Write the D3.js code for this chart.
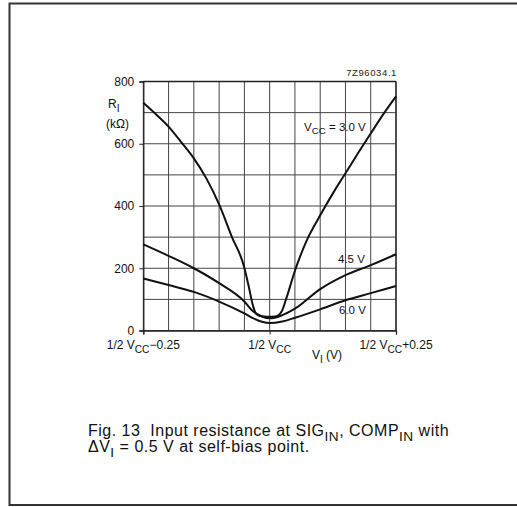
<!DOCTYPE html>
<html><head><meta charset="utf-8">
<script src="https://cdn.jsdelivr.net/npm/d3@7"></script>
<style>
body{margin:0;background:#fff;}
svg{display:block;font-family:"Liberation Sans",Arial,sans-serif;}
</style></head>
<body>
<svg id="c" width="517" height="507"></svg>
<script>
// ---- data ----
const xTickValues = [-0.25, 0, 0.25];
const xTickLabels = ["1/2 V|CC|\u22120.25", "1/2 V|CC|", "1/2 V|CC|+0.25"];
const yTickValues = [0, 200, 400, 600, 800];
const seriesNames = ["3.0 V", "4.5 V", "6.0 V"];
const v30X = [-0.25,-0.225,-0.2,-0.175,-0.15,-0.125,-0.1,-0.075,-0.051,-0.042,-0.033,-0.028,-0.022,-0.012,0,0.01,0.018,0.024,0.033,0.05,0.075,0.1,0.129,0.15,0.175,0.2,0.225,0.25];
const v30Y = [732,695,655,605,553,488,405,302,207,146,80,57,48,45,44,45,50,62,103,192,295,370,451,505,570,633,695,752];
const v45X = [-0.25,-0.2,-0.15,-0.1,-0.05,-0.033,-0.015,0,0.02,0.05,0.1,0.15,0.2,0.25];
const v45Y = [277,240,200,152,93,62,45,39,46,70,133,178,210,245];
const v60X = [-0.25,-0.2,-0.15,-0.1,-0.05,-0.033,-0.015,0,0.025,0.05,0.1,0.15,0.2,0.25];
const v60Y = [167,146,124,93,55,40,28,24,29,41,68,97,120,143];

const svg = d3.select("#c");
const x = d3.scaleLinear().domain([-0.25, 0.25]).range([143.3, 396]);
const y = d3.scaleLinear().domain([0, 800]).range([330.5, 81.5]);

// outer frame
svg.append("path").attr("d","M517,3.5 L9.5,3.5 L9.5,505 L517,505")
  .attr("fill","none").attr("stroke","#333").attr("stroke-width",2);

// grid
const g = svg.append("g");
g.selectAll(".vg").data(d3.range(-0.25, 0.2501, 0.05)).join("line")
  .attr("x1", d => x(d)).attr("x2", d => x(d)).attr("y1", y(0)).attr("y2", y(800))
  .attr("stroke", "#444").attr("stroke-width", 1);
g.selectAll(".hg").data(d3.range(0, 801, 100)).join("line")
  .attr("y1", d => y(d)).attr("y2", d => y(d)).attr("x1", x(-0.25)).attr("x2", x(0.25))
  .attr("stroke", "#444").attr("stroke-width", 1);

// axes
const yAxis = d3.axisLeft(y).tickValues(yTickValues).tickSize(4).tickPadding(5);
const ya = svg.append("g").attr("transform", `translate(${x(-0.25)},0)`).call(yAxis);
ya.select(".domain").attr("stroke","#222").attr("stroke-width",1.3);
ya.selectAll("line").attr("stroke","#222");
ya.selectAll("text").attr("font-size",12).attr("fill","#111").attr("font-family","Liberation Sans, Arial, sans-serif");

const xAxis = d3.axisBottom(x).tickValues(xTickValues).tickSize(4).tickFormat("");
const xa = svg.append("g").attr("transform", `translate(0,${y(0)})`).call(xAxis);
xa.select(".domain").attr("stroke","#222").attr("stroke-width",1.3);
xa.selectAll("line").attr("stroke","#222");

// right/top border
svg.append("line").attr("x1",x(0.25)).attr("x2",x(0.25)).attr("y1",y(0)).attr("y2",y(800)).attr("stroke","#222").attr("stroke-width",1.3);
svg.append("line").attr("x1",x(-0.25)).attr("x2",x(0.25)).attr("y1",y(800)).attr("y2",y(800)).attr("stroke","#222").attr("stroke-width",1.3);

// helper: text with subscripts written as "a|sub|b"
function richText(sel, str, size) {
  const parts = str.split("|");
  parts.forEach((p, i) => {
    if (p === "") return;
    const t = sel.append("tspan").text(p);
    if (i % 2 === 1) t.attr("font-size", size * 0.85).attr("dy", size * 0.3);
    else if (i > 0) t.attr("dy", -size * 0.3);
  });
}

// x tick labels
xTickValues.forEach((v, i) => {
  const t = svg.append("text").attr("x", x(v)).attr("y", 349).attr("text-anchor","middle")
    .attr("font-size", 12).attr("fill","#111");
  richText(t, xTickLabels[i], 12);
});
// x axis title
const xt = svg.append("text").attr("x", 327).attr("y", 359).attr("text-anchor","middle").attr("font-size",12).attr("fill","#111");
richText(xt, "V|I| (V)", 12);

// y axis title
const yt = svg.append("text").attr("x", 108).attr("y", 108).attr("font-size",12).attr("fill","#111");
richText(yt, "R|I|", 12);
svg.append("text").attr("x", 106).attr("y", 128).attr("font-size",12).attr("fill","#111").text("(k\u03A9)");

// code
svg.append("text").attr("x", 397).attr("y", 76).attr("text-anchor","end").attr("font-size",9.5).attr("fill","#222").attr("letter-spacing",0.6).text("7Z96034.1");

// curves
const line = d3.line().x(d => x(d[0])).y(d => y(d[1])).curve(d3.curveMonotoneX);
const series = [d3.zip(v30X, v30Y), d3.zip(v45X, v45Y), d3.zip(v60X, v60Y)];
svg.selectAll(".curve").data(series).join("path")
  .attr("d", line).attr("fill","none").attr("stroke","#111").attr("stroke-width",2);

// curve labels
const l1 = svg.append("text").attr("x", 304).attr("y", 131).attr("font-size",11.5).attr("fill","#111");
richText(l1, "V|CC| = " + seriesNames[0], 11.5);
svg.append("text").attr("x", 338).attr("y", 263).attr("font-size",11.5).attr("fill","#111").text(seriesNames[1]);
svg.append("text").attr("x", 339).attr("y", 314).attr("font-size",11.5).attr("fill","#111").text(seriesNames[2]);

// caption
const c1 = svg.append("text").attr("x", 88).attr("y", 436).attr("font-size",16).attr("letter-spacing",0.5).attr("fill","#111");
richText(c1, "Fig. 13\u00A0\u00A0Input resistance at SIG|IN|, COMP|IN| with", 16);
const c2 = svg.append("text").attr("x", 88).attr("y", 452).attr("font-size",16).attr("letter-spacing",0.5).attr("fill","#111");
richText(c2, "\u0394V|I| = 0.5 V at self-bias point.", 16);
</script>
</body></html>
